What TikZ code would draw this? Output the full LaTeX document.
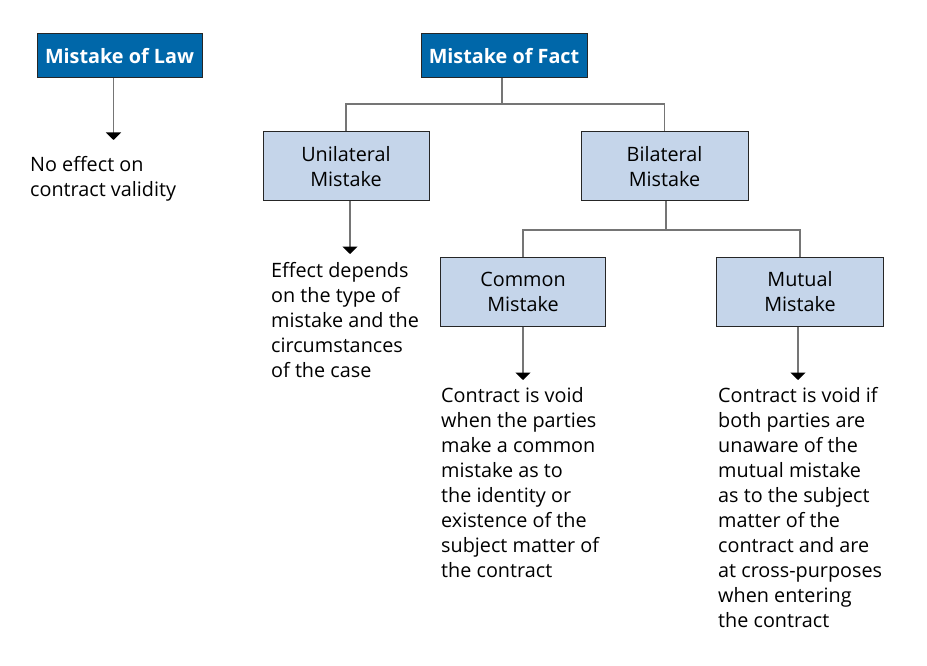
\documentclass[tikz,border=0pt]{standalone}
\usepackage{fontspec}
\setmainfont{Open Sans}
\usetikzlibrary{arrows.meta}
\definecolor{hdr}{HTML}{0067A9}
\definecolor{sub}{HTML}{C5D5EA}
\definecolor{ln}{HTML}{757575}
\begin{document}
\begin{tikzpicture}[x=1pt,y=-1pt,
  hdrbox/.style={draw=black!85, line width=1, fill=hdr, text=white,
    font=\fontsize{19.8}{24}\selectfont\bfseries, inner sep=0},
  subbox/.style={draw=black!85, line width=1, fill=sub, align=center,
    font=\fontsize{19.8}{25.1}\selectfont, inner sep=0},
  desc/.style={align=left, inner sep=0, anchor=base west,
    font=\fontsize{19.8}{25.1}\selectfont},
  conn/.style={draw=ln, line width=1.2},
  arr/.style={conn, -{Triangle[width=15,length=7.5,color=black]}}]
\useasboundingbox (0,0) rectangle (927,666);
\fill[white] (0,0) rectangle (927,666);

\node[hdrbox, minimum width=165, minimum height=44] (law) at (119.5,56) {Mistake of Law};
\node[hdrbox, minimum width=166, minimum height=44] (fact) at (504,56) {Mistake of Fact};

\node[subbox, minimum width=166, minimum height=69] (uni) at (346,166.5) {Unilateral\\Mistake};
\node[subbox, minimum width=167, minimum height=69] (bi) at (664.5,166.5) {Bilateral\\Mistake};
\node[subbox, minimum width=165, minimum height=69] (com) at (523,291.5) {Common\\Mistake};
\node[subbox, minimum width=167, minimum height=69] (mut) at (800,291.5) {Mutual\\Mistake};

% base anchor = baseline of the last line
\node[desc] (lawtxt) at (30,196.1) {No effect on\\contract validity};
\node[desc] (unitxt) at (271,377.4) {Effect depends\\on the type of\\mistake and the\\circumstances\\of the case};
\node[desc] (comtxt) at (441,577.7) {Contract is void\\when the parties\\make a common\\mistake as to\\the identity or\\existence of the\\subject matter of\\the contract};
\node[desc] (muttxt) at (718,627.9) {Contract is void if\\both parties are\\unaware of the\\mutual mistake\\as to the subject\\matter of the\\contract and are\\at cross-purposes\\when entering\\the contract};

% connectors
\coordinate (lawend) at (113.5,140);
\draw[arr] (law.south -| lawend) -- (lawend);

\coordinate (factbar) at (502,104);
\draw[conn] (fact.south -| factbar) -- (factbar);
\draw[conn] (uni.north) |- (factbar) -| (bi.north);

\coordinate (uniend) at (350,254);
\draw[arr] (uni.south -| uniend) -- (uniend);

\coordinate (bibar) at (666,230);
\draw[conn] (bi.south -| bibar) -- (bibar);
\draw[conn] (com.north) |- (bibar) -| (mut.north);

\coordinate (comend) at (523,380);
\draw[arr] (com.south) -- (comend);
\coordinate (mutend) at (798,380);
\draw[arr] (mut.south -| mutend) -- (mutend);
\end{tikzpicture}
\end{document}
